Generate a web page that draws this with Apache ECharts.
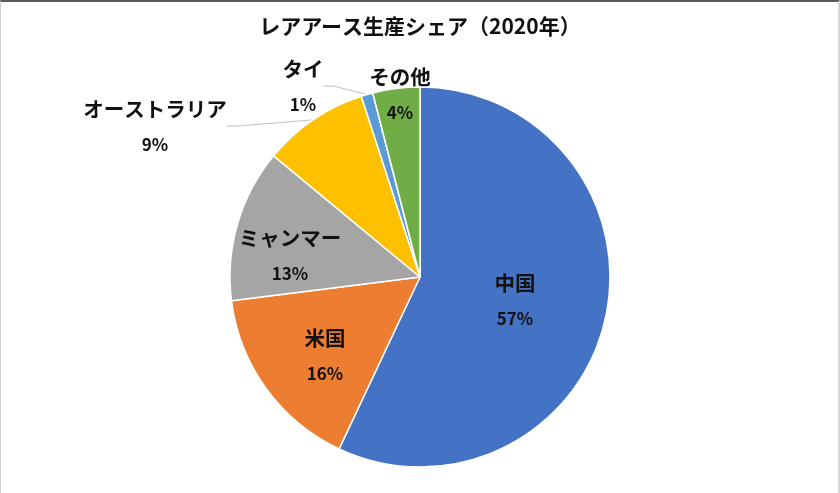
<!DOCTYPE html>
<html>
<head>
<meta charset="utf-8">
<script src="https://cdn.jsdelivr.net/npm/echarts@6/dist/echarts.min.js"></script>
<style>
  html, body { margin: 0; padding: 0; background: #fff; }
  #frame {
    position: absolute; left: 0; top: 0; width: 837px; height: 491px;
    border-top: 2px solid #5a5a5a; border-left: 1px solid #d0d0d0; border-right: 2px solid #d8d8d8;
  }
  #chart { width: 840px; height: 493px; }
</style>
</head>
<body>
<div id="chart"></div>
<div id="frame"></div>
<script>
// レアアース生産シェア（2020年）
var countries = ['中国', '米国', 'ミャンマー', 'オーストラリア', 'タイ', 'その他'];
var shares = [57, 16, 13, 9, 1, 4];
var colors = ['#4472C4', '#ED7D31', '#A5A5A5', '#FFC000', '#5B9BD5', '#70AD47'];

// ラベルの置き場所（Excelのbest fit風）
var labelPos = [[515, 301], [325, 356], [290, 256], [155, 127], [303, 87], [400, 95]];
var outsideLabel = [false, false, false, true, true, false];

var chart = echarts.init(document.getElementById('chart'));

var pieData = countries.map(function (name, i) {
  return {
    name: name,
    value: shares[i],
    itemStyle: { color: colors[i] },
    label: { position: outsideLabel[i] ? 'outside' : 'inside' },
    labelLine: { show: outsideLabel[i] }
  };
});

chart.setOption({
  animation: false,
  title: {
    text: 'レアアース生産シェア（2020年）',
    left: 'center',
    top: 11,
    textStyle: { fontFamily: 'Noto Sans CJK JP', fontSize: 21, fontWeight: 'bold', color: '#111' }
  },
  series: [{
    type: 'pie',
    center: [420, 277],
    radius: 190,
    startAngle: 90,
    clockwise: true,
    itemStyle: { borderColor: '#fff', borderWidth: 1.5 },
    label: {
      formatter: function (p) { return '{n|' + p.name + '}\n{p|' + p.value + '%}'; },
      rich: {
        n: { fontFamily: 'Noto Sans CJK JP', fontSize: 20.5, fontWeight: 'bold', color: '#111', lineHeight: 36 },
        p: { fontFamily: 'Noto Sans CJK JP', fontSize: 17, fontWeight: 'bold', color: '#111', lineHeight: 36 }
      }
    },
    labelLine: { lineStyle: { color: '#bfbfbf', width: 1 }, length: 10, length2: 10 },
    labelLayout: function (params) {
      var pos = labelPos[params.dataIndex];
      return { x: pos[0], y: pos[1], align: 'center', verticalAlign: 'middle' };
    },
    data: pieData
  }]
});
</script>
</body>
</html>
